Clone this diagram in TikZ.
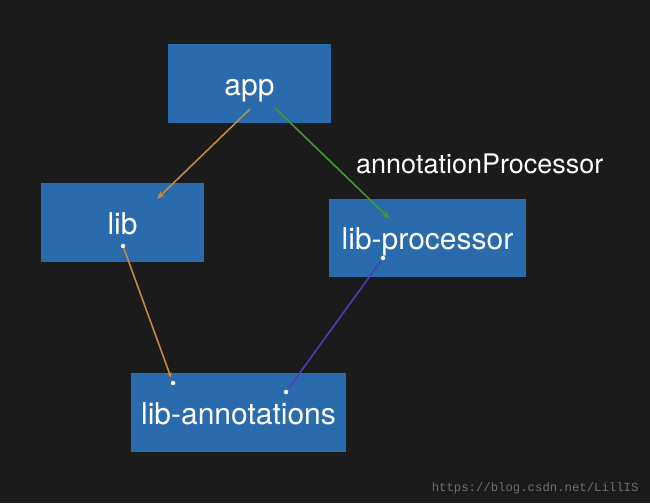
\documentclass[tikz,border=0pt]{standalone}
\usepackage{fontspec}
\setmainfont{TeX Gyre Heros}
\newfontfamily\wmfont{Liberation Mono}
\usetikzlibrary{arrows.meta}
\definecolor{bg}{HTML}{1B1B1B}
\definecolor{boxblue}{HTML}{2A6BAE}
\definecolor{linkorange}{HTML}{C08A40}
\definecolor{linkgreen}{HTML}{3C9B2C}
\definecolor{linkpurple}{HTML}{4B3FB5}
\definecolor{wmgray}{HTML}{6E6E6E}
\tikzset{
  modbox/.style={fill=boxblue, draw=none, text=white, inner sep=0pt,
    text height=24pt, text depth=1pt,
    font=\fontsize{30}{32}\selectfont},
  link/.style={line width=1.6pt, -{Stealth[length=8pt,width=6pt]}},
  plain link/.style={line width=1.6pt},
  enddot/.style={circle, fill=white, inner sep=0pt, minimum size=4.5pt},
}
\begin{document}
\begin{tikzpicture}[x=1pt,y=-1pt]
\fill[bg] (0,0) rectangle (650,503);
\useasboundingbox (0,0) rectangle (650,503);
\node[modbox, minimum width=163pt, minimum height=79pt] (app) at (249.5,83.5) {app};
\node[modbox, minimum width=163pt, minimum height=79pt] (lib) at (122.5,222.5) {lib};
\node[modbox, minimum width=197pt, minimum height=78pt] (proc) at (427.5,238) {lib-processor};
\node[modbox, minimum width=215pt, minimum height=79pt] (ann) at (238.5,412.5) {lib-annotations};
\node[text=white, font=\fontsize{27}{29}\selectfont, anchor=base west, inner sep=0pt] (aplabel) at (356,173) {annotationProcessor};
\node[text=wmgray, font=\wmfont\fontsize{12.3}{14}\selectfont, anchor=east] (wm) at (642,488) {https://blog.csdn.net/LillIS};
% endpoints
\coordinate (appL) at (250,109);
\coordinate (appR) at (275,108);
\coordinate (libIn) at (157,199);
\coordinate (procIn) at (390,219);
\node[enddot] (libOut) at (123,246) {};
\node[enddot] (annL) at (173,383) {};
\node[enddot] (procOut) at (383,258) {};
\node[enddot] (annR) at (286,392) {};
% connectors
\draw[link, linkorange] (appL) -- (libIn);
\draw[link, linkgreen] (appR) -- (procIn);
\draw[link, linkorange, -{Stealth[length=6pt,width=5pt]}, shorten >=3pt] (libOut) -- (annL);
\draw[plain link, linkpurple, shorten <=2pt, shorten >=2pt] (procOut) -- (annR);
\end{tikzpicture}
\end{document}
